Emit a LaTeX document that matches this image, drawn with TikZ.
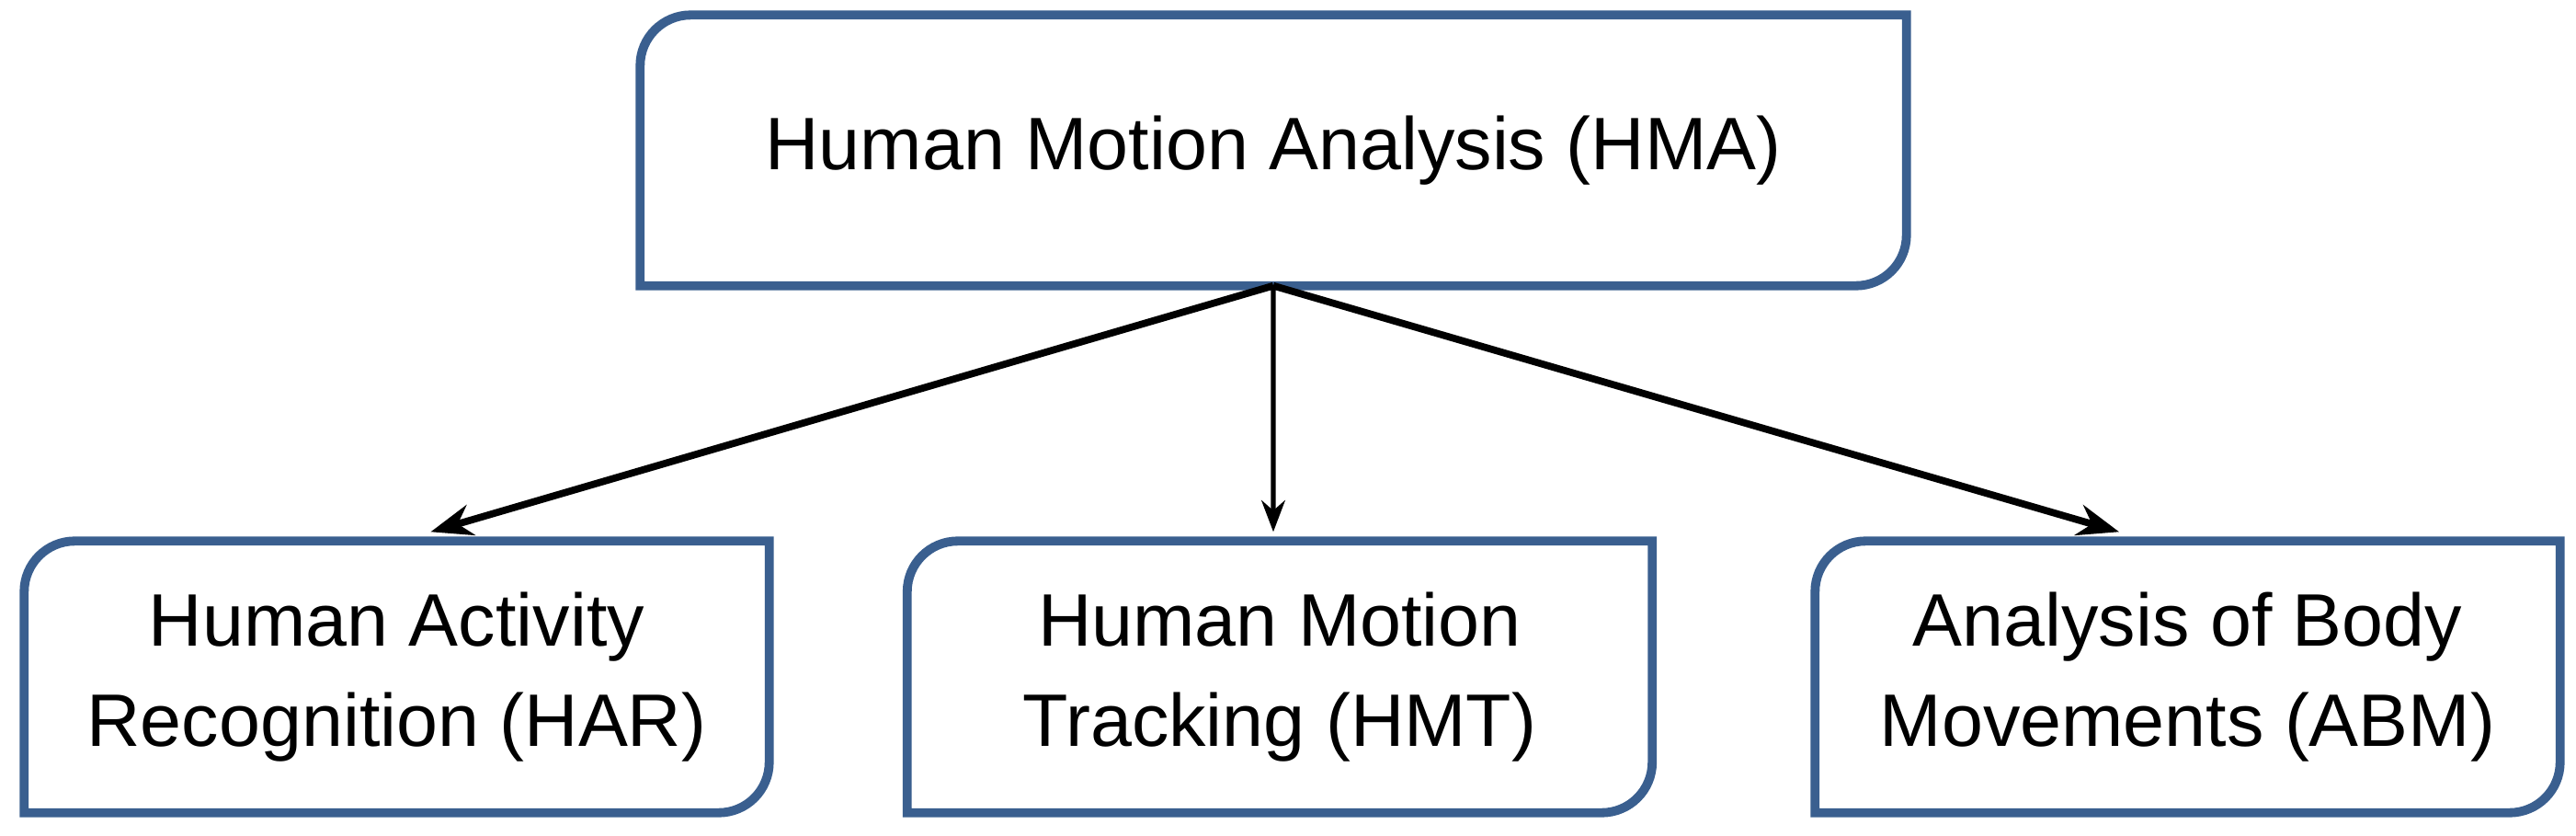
\documentclass[tikz,border=0pt]{standalone}
\usepackage{fontspec}
\setmainfont{Liberation Sans}
\usepackage{xcolor}
\usetikzlibrary{arrows.meta,positioning}
\definecolor{boxblue}{HTML}{3A5F8F}

\newcommand{\boxoutline}[1]{%
  \draw[draw=boxblue, line width=2.8pt] (#1.south west) [rounded corners=0.55cm] -- (#1.north west) [sharp corners] -- (#1.north east) [rounded corners=0.55cm] -- (#1.south east) [sharp corners] -- cycle;}

\begin{document}
\begin{tikzpicture}[>=Stealth, every node/.style={rectangle, align=center, inner sep=0pt, font=\fontsize{23}{31}\selectfont}]
    \useasboundingbox (0,0) rectangle (28.02,9.08);
    \node[minimum width=13.76cm, minimum height=2.93cm] (hma) at (13.85,7.445) {Human Motion Analysis (HMA)};
    \node[minimum width=8.09cm, minimum height=2.94cm] (har) at (4.315,1.72) {Human Activity\\Recognition (HAR)};
    \node[minimum width=8.09cm, minimum height=2.94cm] (hmt) at (13.92,1.72) {Human Motion\\Tracking (HMT)};
    \node[minimum width=8.09cm, minimum height=2.94cm] (abm) at (23.795,1.72) {Analysis of Body\\Movements (ABM)};
    \boxoutline{hma}
    \boxoutline{har}
    \boxoutline{hmt}
    \boxoutline{abm}
    \draw[->, line width=2.2pt] (hma.south) -- ([shift={(0.37,0.1)}]har.north);
    \draw[->, line width=1.5pt] (hma.south) -- ([shift={(-0.07,0.1)}]hmt.north);
    \draw[->, line width=2.2pt] (hma.south) -- ([shift={(-0.745,0.1)}]abm.north);
\end{tikzpicture}
\end{document}
